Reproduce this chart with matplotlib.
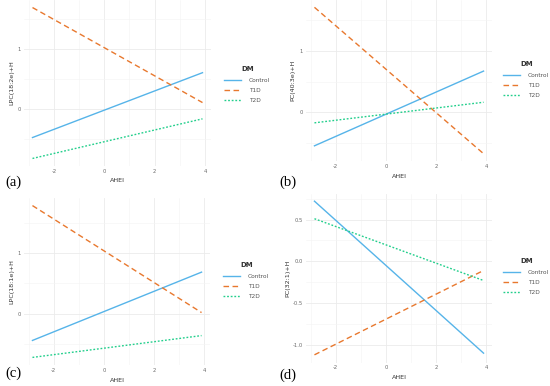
import matplotlib
matplotlib.use("Agg")
import matplotlib.pyplot as plt
from matplotlib.ticker import MultipleLocator

# fitted lines, two ends each
ahei = [-2.85, 3.9]
groups = ["Control", "T1D", "T2D"]

a_control = [-0.48, 0.605]
a_t1d = [1.695, 0.105]
a_t2d = [-0.83, -0.167]

b_control = [-0.544, 0.672]
b_t1d = [1.71, -0.672]
b_t2d = [-0.17, 0.165]

c_control = [-0.44, 0.687]
c_t1d = [1.785, 0.02]
c_t2d = [-0.72, -0.36]

d_control = [0.72, -1.10]
d_t1d = [-1.12, -0.11]
d_t2d = [0.51, -0.23]

x_ticks = [-2, 0, 2, 4]

W, H = 550, 386
colors = ["#56B4E9", "#E8782E", "#23CF8C"]
styles = ["-", (0, (4, 2.5)), (0, (1.3, 1.3))]

panels = [
    # (tag, tag pos px, ylabel, series, yticks, ytick labels, axes box px [l, t, r, b], y label x px, legend anchor px)
    ("(a)", (5, 182), "LPC(18:2e)+H", [a_control, a_t1d, a_t2d], [0, 1], ["0", "1"],
     [24, 0, 211, 166], 12, (219, 61)),
    ("(b)", (279, 182), "PC(40:3e)+H", [b_control, b_t1d, b_t2d], [0, 1], ["0", "1"],
     [306, 0, 492, 161], 293, (498, 56)),
    ("(c)", (5, 373), "LPC(18:1e)+H", [c_control, c_t1d, c_t2d], [0, 1], ["0", "1"],
     [24, 198, 210, 365], 12, (218, 257)),
    ("(d)", (279, 375), "PC(32:1)+H", [d_control, d_t1d, d_t2d], [-1.0, -0.5, 0.0, 0.5],
     ["-1.0", "-0.5", "0.0", "0.5"], [306, 193.5, 492, 362.5], 288, (498, 253)),
]

fig = plt.figure(figsize=(W / 100, H / 100), dpi=100)
fig.patch.set_facecolor("white")

for tag, tag_xy, ylab, series, yt, ytl, box, ylab_x, leg_xy in panels:
    l, t, r, b = box
    ax = fig.add_axes([l / W, 1 - b / H, (r - l) / W, (b - t) / H])
    for vals, c, ls, name in zip(series, colors, styles, groups):
        ax.plot(ahei, vals, color=c, linestyle=ls, linewidth=1.0, label=name)

    ax.set_xticks(x_ticks)
    ax.set_xticklabels([str(v) for v in x_ticks])
    ax.set_yticks(yt)
    ax.set_yticklabels(ytl)
    ax.xaxis.set_minor_locator(MultipleLocator(1))
    ax.yaxis.set_minor_locator(MultipleLocator((yt[1] - yt[0]) / 2))
    ax.grid(which="major", color="#EBEBEB", linewidth=0.6)
    ax.grid(which="minor", color="#F4F4F4", linewidth=0.4)
    ax.set_axisbelow(True)
    for s in ax.spines.values():
        s.set_visible(False)
    ax.tick_params(which="both", length=0, labelsize=3.8, labelcolor="#6b6b6b", pad=2)

    # axis titles placed by pixel so each panel matches
    fig.text((l + r) / 2 / W, 1 - (b + 15) / H, "AHEI", fontsize=4.6, color="#333333",
             ha="center", va="center")
    fig.text(ylab_x / W, 1 - (t + b) / 2 / H, ylab, fontsize=4.6, color="#333333",
             ha="center", va="center", rotation=90)
    fig.text(tag_xy[0] / W, 1 - tag_xy[1] / H, tag, fontsize=10.5, family="Liberation Serif",
             ha="left", va="center", color="black")

    leg = ax.legend(loc="upper left", bbox_to_anchor=(leg_xy[0] / W, 1 - leg_xy[1] / H),
                    bbox_transform=fig.transFigure, frameon=False, title="DM",
                    fontsize=4.2, title_fontsize=5, handlelength=2.9, labelspacing=0.9,
                    handletextpad=1.35)
    leg.get_title().set_fontweight("bold")
    leg.get_title().set_color("#333333")
    for txt in leg.get_texts():
        txt.set_color("#555555")

fig.savefig("out.png", dpi=100, facecolor="white")
